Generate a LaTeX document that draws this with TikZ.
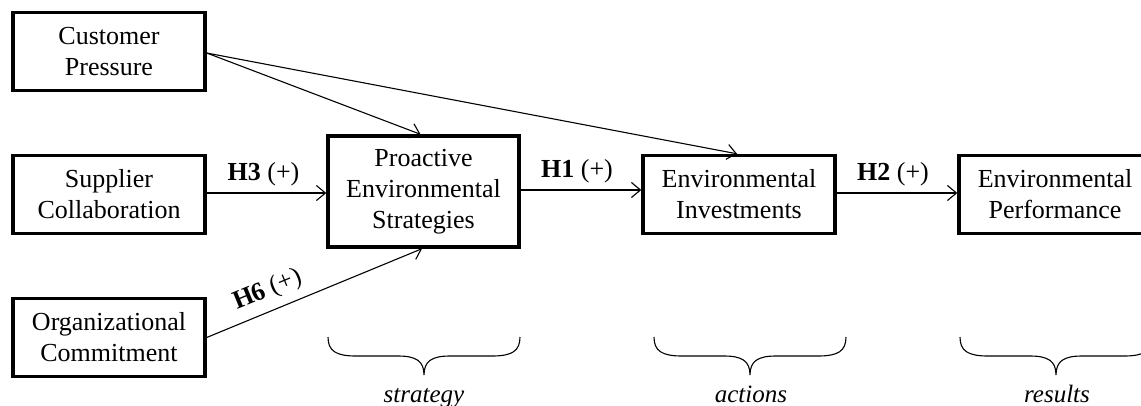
\documentclass[tikz,border=0pt]{standalone}
\usepackage{fontspec}
\setmainfont{Liberation Serif}
\usetikzlibrary{arrows.meta}

\begin{document}
\begin{tikzpicture}[x=1pt,y=-1pt,
  txt/.style={font=\fontsize{26}{31}\selectfont},
  construct/.style={txt, draw, line width=3.4pt, align=center, inner sep=0pt,
    minimum width=192pt, minimum height=78pt},
  link/.style={line width=1.1pt, -{Straight Barb[length=9pt,width=15pt,line width=1.1pt]}},
  hyp/.style={txt, inner sep=0pt},
  phase/.style={txt, font=\fontsize{25}{30}\selectfont\itshape, anchor=base},
  bracestyle/.style={line width=1.1pt},
  pics/curly/.style={code={
    \draw[bracestyle] (-#1,0) .. controls (-#1,14) and (-#1+8,19) .. (-#1+28,19)
      -- (-26,19) .. controls (-8,19) and (0,24) .. (0,38)
      .. controls (0,24) and (8,19) .. (26,19)
      -- (#1-28,19) .. controls (#1-8,19) and (#1,14) .. (#1,0);
  }}]
\useasboundingbox (0,0) rectangle (1141,405);

% drivers
\node[construct] (cp) at (109,51.5) {Customer\\Pressure};
\node[construct] (sc) at (109,194.5) {Supplier\\Collaboration};
\node[construct] (oc) at (109,337.5) {Organizational\\Commitment};

% main chain
\node[construct, minimum width=191pt, minimum height=111pt] (pes) at (423.5,191.5)
  {Proactive\\Environmental\\Strategies};
\node[construct] (ei) at (739,194.5) {Environmental\\Investments};
\node[construct] (ep) at (1055,194.5) {Environmental\\Performance};

% hypothesised paths
\draw[link] ([yshift=-1.5pt]cp.east) -- ([xshift=-3pt]pes.north);
\draw[link] ([yshift=-1.5pt]cp.east) -- ([xshift=-2pt]ei.north);
\draw[link] ([yshift=1.5pt]sc.west -| sc.east) coordinate (scr) -- (scr -| pes.west)
  node[hyp, midway, anchor=base, yshift=13pt, xshift=-3pt] {\textbf{H3} (+)};
\draw[link] ([yshift=1.5pt]pes.east) coordinate (pesr) -- (pesr -| ei.west)
  node[hyp, midway, anchor=base, yshift=13pt, xshift=-4pt] {\textbf{H1} (+)};
\draw[link] ([yshift=1.5pt]ei.east) coordinate (eir) -- (eir -| ep.west)
  node[hyp, midway, anchor=base, yshift=13pt, xshift=-4pt] {\textbf{H2} (+)};
\draw[link] (oc.east) -- ([xshift=-1.5pt]pes.south)
  node[hyp, pos=0.32, sloped, above=8pt] {\textbf{H6} (+)};

% phase braces
\pic at (424,337) {curly=96};
\pic at (750,337) {curly=96};
\pic at (1056,337) {curly=96};
\node[phase] (lstrat) at (424,402) {strategy};
\node[phase] (lact) at (751,402) {actions};
\node[phase] (lres) at (1057,402) {results};
\end{tikzpicture}
\end{document}
